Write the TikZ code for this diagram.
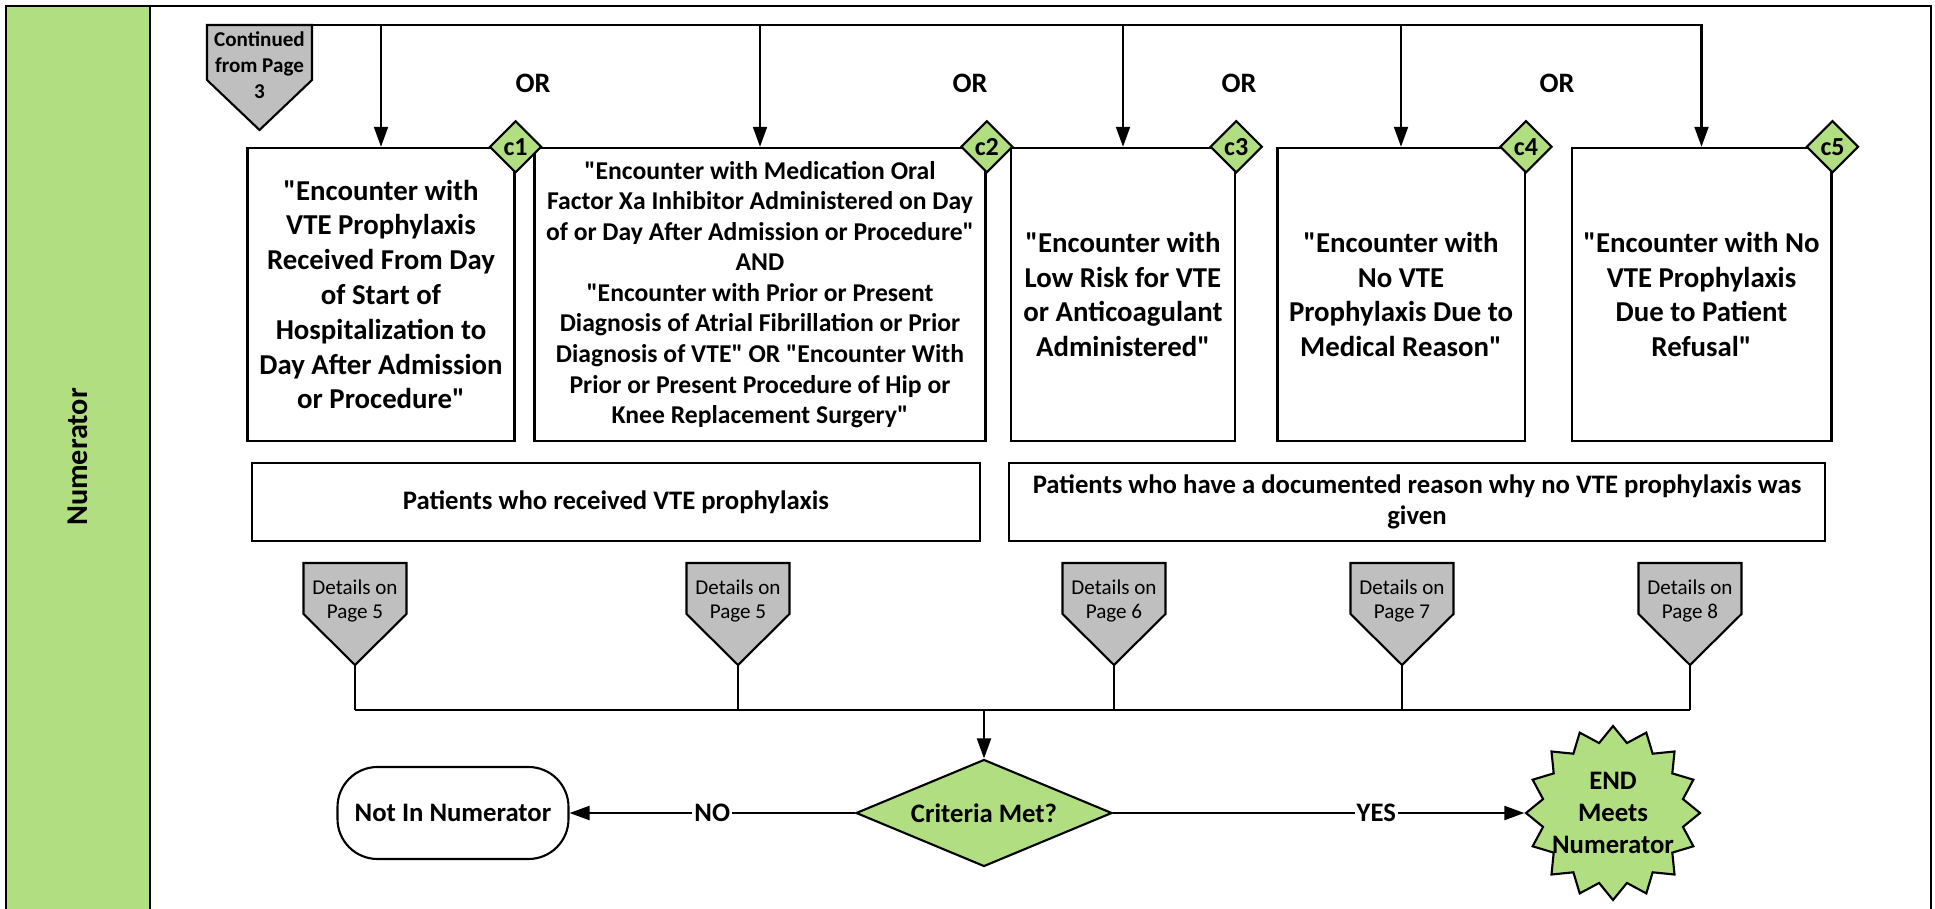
\documentclass[tikz,border=0pt]{standalone}
\usepackage{fontspec}
\setmainfont{Carlito}[Ligatures=TeXOff]
\usetikzlibrary{positioning,shapes,arrows.meta}

\definecolor{lanegreen}{RGB}{178,222,130}
\definecolor{pagegray}{RGB}{191,191,191}

\begin{document}
\begin{tikzpicture}[x=0.1mm, y=-0.1mm, auto]
	\tikzstyle{block} = [rectangle, draw, fill=white, text centered, align=center, minimum height=29.3mm, line width=0.7pt, font=\fontsize{8.2}{9.9}\selectfont\bfseries]
	\tikzstyle{group} = [rectangle, draw, fill=white, align=center, minimum height=7.8mm, line width=0.7pt, font=\fontsize{7.6}{9}\selectfont\bfseries]
	\tikzstyle{tag} = [diamond, draw, fill=lanegreen, inner sep=0pt, minimum width=5.2mm, minimum height=5.2mm, line width=0.6pt, font=\fontsize{7.4}{8}\selectfont\bfseries]
	\tikzstyle{decision} = [diamond, draw, fill=lanegreen, shape aspect=2.4, inner sep=0pt, minimum width=25.6mm, minimum height=10.7mm, line width=0.6pt, font=\fontsize{7.6}{9}\selectfont\bfseries]
	\tikzstyle{terminal} = [rectangle, draw, rounded corners=4mm, minimum width=23.1mm, minimum height=9.2mm, line width=0.6pt, font=\fontsize{7.6}{9}\selectfont\bfseries]
	\tikzstyle{endstar} = [star, star points=16, star point ratio=1.22, draw, fill=lanegreen, inner sep=0pt, minimum size=17.4mm, line width=0.6pt]
	\tikzstyle{pageshape} = [draw, fill=pagegray, line width=0.6pt]
	\tikzstyle{pagetext} = [align=center, inner sep=0pt, font=\fontsize{6}{7.1}\selectfont]
	\tikzstyle{orlabel} = [font=\fontsize{8}{9}\selectfont\bfseries]
	\tikzstyle{midlabel} = [auto=false, fill=white, inner sep=0.6pt, font=\fontsize{7.6}{9}\selectfont\bfseries]
	\tikzstyle{line} = [draw, -{Triangle[length=2mm,width=1.4mm]}, line width=0.6pt]
	\tikzstyle{busline} = [draw, line width=0.6pt]

	\useasboundingbox (0,0) rectangle (1935,909);

	% Swimlane
	\fill[lanegreen] (6,6) rectangle (150,920);
	\draw[line width=0.8pt] (6,6) rectangle (1931,920);
	\draw[line width=0.8pt] (150,6) -- (150,920);
	\node[rotate=90, font=\fontsize{8.6}{10}\selectfont\bfseries] (lane) at (78,457) {Numerator};

	% Place nodes
	\filldraw[pageshape] (207,25) -- (312,25) -- (312,80) -- (259.5,130) -- (207,80) -- cycle;
	\node[pagetext, font=\fontsize{6}{7.4}\selectfont\bfseries] (cont) at (259.5,65) {Continued\\from Page\\3};
	\coordinate (conttop) at (207,25);

	\node[block, minimum width=25.8mm] (c1) at (381,294.5) {"Encounter with\\VTE Prophylaxis\\Received From Day\\of Start of\\Hospitalization to\\Day After Admission\\or Procedure"};
	\node[block, minimum width=44.6mm, font=\fontsize{7.3}{8.7}\selectfont\bfseries] (c2) at (760,294.5) {"Encounter with Medication Oral\\Factor Xa Inhibitor Administered on Day\\of or Day After Admission or Procedure"\\AND\\"Encounter with Prior or Present\\Diagnosis of Atrial Fibrillation or Prior\\Diagnosis of VTE" OR "Encounter With\\Prior or Present Procedure of Hip or\\Knee Replacement Surgery"};
	\node[block, minimum width=22.4mm] (c3) at (1123,294.5) {"Encounter with\\Low Risk for VTE\\or Anticoagulant\\Administered"};
	\node[block, minimum width=23.8mm] (c4) at (1401,294.5) {"Encounter with\\No VTE\\Prophylaxis Due to\\Medical Reason"};
	\node[block, minimum width=25.9mm] (c5) at (1701.5,294.5) {"Encounter with No\\VTE Prophylaxis\\Due to Patient\\Refusal"};

	\foreach \n in {1,...,5}
		\node[tag] (t\n) at (c\n.north east) {c\n};

	\node[orlabel] (or1) at (533,83) {OR};
	\node[orlabel] (or2) at (970,83) {OR};
	\node[orlabel] (or3) at (1239,83) {OR};
	\node[orlabel] (or4) at (1557,83) {OR};

	\node[group, minimum width=72.8mm] (recv) at (616,502) {Patients who received VTE prophylaxis};
	\node[group, minimum width=81.6mm] (reason) at (1417,502) {Patients who have a documented reason why no VTE prophylaxis was\\given};

	\foreach \n/\px/\pg in {1/355/5, 2/738/5, 3/1114/6, 4/1402/7, 5/1690/8} {
		\filldraw[pageshape] (\px-51.5,563) -- (\px+51.5,563) -- (\px+51.5,614) -- (\px,665) -- (\px-51.5,614) -- cycle;
		\node[pagetext] (d\n) at (\px,601) {Details on\\Page \pg};
		\coordinate (tip\n) at (\px,665);
	}

	\coordinate (bus) at (984,710);
	\node[decision] (crit) at (984,813) {Criteria Met?};
	\node[terminal] (notin) at (453,813) {Not In Numerator};
	\node[endstar] (end) at (1613,813) {};
	\node[align=center, font=\fontsize{7.6}{9.2}\selectfont\bfseries] (endtext) at (end) {END\\Meets\\Numerator};

	% Draw edges
	\path[line] (conttop) -| (c5.north);
	\foreach \n in {1,...,4}
		\path[line] (c\n.north |- conttop) -- (c\n.north);

	\foreach \n in {1,...,5}
		\draw[line width=0.45pt] (tip\n) -- (tip\n |- bus);
	\path[busline] (tip1 |- bus) -- (tip5 |- bus);
	\path[line] (bus) -- (crit.north);

	\path[line] (crit.west) -- node[midlabel] {NO} (notin.east);
	\path[line] (crit.east) -- node[midlabel, pos=0.64] {YES} (end.west);
\end{tikzpicture}
\end{document}
